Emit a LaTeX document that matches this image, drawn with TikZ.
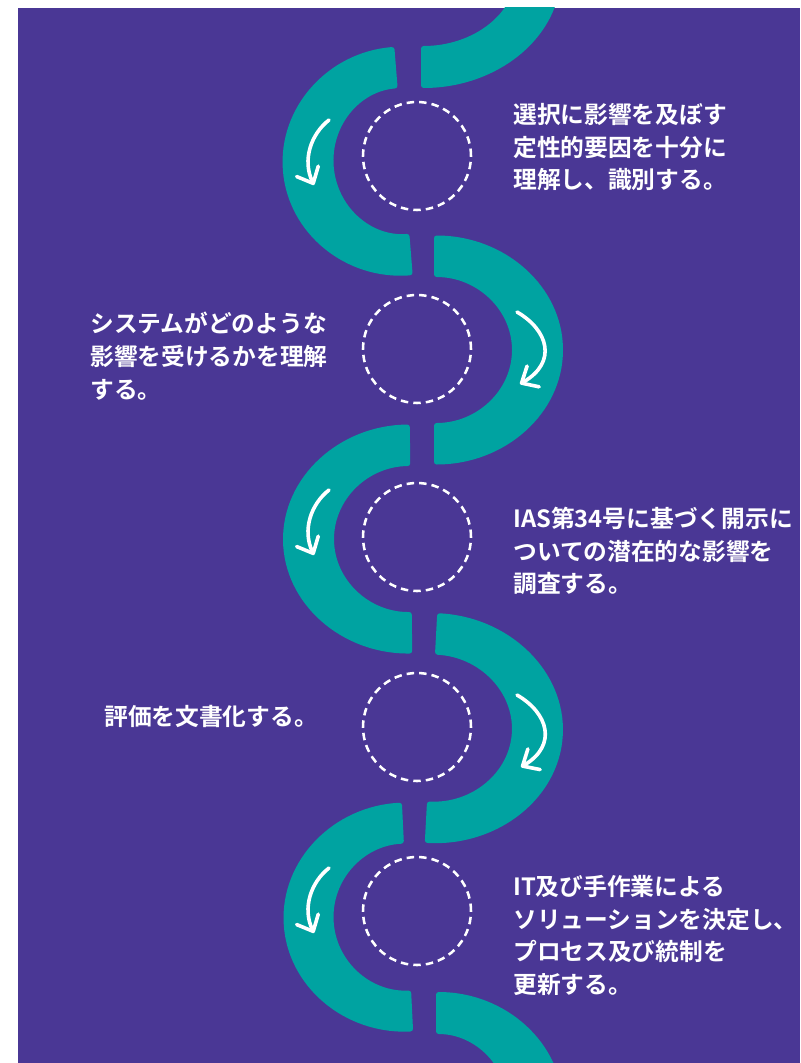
\documentclass[tikz,border=0pt]{standalone}
\usepackage{fontspec}
\newfontfamily\jp{Noto Sans CJK JP}[BoldFont={Noto Sans CJK JP Bold}]
\usetikzlibrary{arrows.meta}
\definecolor{bgpurple}{HTML}{4A3795}
\definecolor{bandteal}{HTML}{00A3A1}
\tikzset{
  band/.style={fill=bandteal, draw=none, rounded corners=2pt},
  ring/.style={draw=white, line width=1.9pt, dash pattern=on 5.6pt off 3.8pt, circle, minimum size=81pt, inner sep=0pt},
  flow/.style={draw=white, line width=2.7pt, line cap=round, line join=round,
    -{Straight Barb[length=10pt,width=18pt,round]}},
  lbl/.style={text=white, font=\jp\bfseries\fontsize{17.8}{24.5}\selectfont, align=left, anchor=north west, inner sep=0pt}
}
\begin{document}
\begin{tikzpicture}[x=0.75pt,y=-0.75pt]
\useasboundingbox (0,0) rectangle (800,1063);
\fill[white] (0,0) rectangle (800,1063);
\fill[bgpurple] (18,8) rectangle (800,1063);
\begin{scope}
\clip (18,8) rectangle (800,1063);
% top partial (right-bulging)
\begin{scope}[shift={(421,-27)}]
\fill[band] (0,-115) arc[start angle=270, end angle=450, x radius=140, y radius=115] -- (0,73) arc[start angle=90, end angle=-90, x radius=95, y radius=73] -- cycle;
\end{scope}
% C1 left
\begin{scope}[shift={(403.5,161)}, rotate=4.6]
\fill[band] (0,-114.5) arc[start angle=270, end angle=90, x radius=121, y radius=114.5] -- (0,73) arc[start angle=90, end angle=270, x radius=70, y radius=73] -- cycle;
\end{scope}
% C2 right
\begin{scope}[shift={(434,350)}]
\fill[band] (0,-114.5) arc[start angle=270, end angle=450, x radius=129, y radius=114.5] -- (0,73) arc[start angle=90, end angle=-90, x radius=78, y radius=73] -- cycle;
\end{scope}
% C3 left
\begin{scope}[shift={(411,539)}, rotate=0.6]
\fill[band] (0,-114.5) arc[start angle=270, end angle=90, x radius=128, y radius=114.5] -- (0,73) arc[start angle=90, end angle=270, x radius=77, y radius=73] -- cycle;
\end{scope}
% C4 right
\begin{scope}[shift={(431,728)}, rotate=-3.1]
\fill[band] (0,-115) arc[start angle=270, end angle=450, x radius=132, y radius=115] -- (0,73.5) arc[start angle=90, end angle=-90, x radius=81, y radius=73.5] -- cycle;
\end{scope}
% C5 left
\begin{scope}[shift={(407.5,917)}, rotate=2.8]
\fill[band] (0,-114.5) arc[start angle=270, end angle=90, x radius=124, y radius=114.5] -- (0,73.5) arc[start angle=90, end angle=270, x radius=74, y radius=73.5] -- cycle;
\end{scope}
% bottom partial (right-bulging)
\begin{scope}[shift={(436,1107)}]
\fill[band] (0,-115) arc[start angle=270, end angle=450, x radius=127, y radius=115] -- (0,73) arc[start angle=90, end angle=-90, x radius=72, y radius=73] -- cycle;
\end{scope}
\end{scope}
% dashed circles
\node[ring] (c1) at (417,156) {};
\node[ring] (c2) at (417,349) {};
\node[ring] (c3) at (417,537) {};
\node[ring] (c4) at (417,727) {};
\node[ring] (c5) at (417,911) {};
% arrows
\draw[flow] (329,120) .. controls (311,134) and (302,160) .. (314,185);
\draw[flow] (517,312) .. controls (548,330) and (558,362) .. (520,384);
\draw[flow] (329,490) .. controls (311,504) and (302,530) .. (314,555);
\draw[flow] (517,695) .. controls (548,713) and (558,745) .. (521,767);
\draw[flow] (329,868) .. controls (311,882) and (302,908) .. (314,933);
% labels
\node[lbl] (t1) at (513,103) {選択に影響を及ぼす\\定性的要因を十分に\\理解し、識別する。};
\node[lbl] (t2) at (90,312) {システムがどのような\\影響を受けるかを理解\\する。};
\node[lbl] (t3) at (513,507) {IAS第34号に基づく開示に\\ついての潜在的な影響を\\調査する。};
\node[lbl] (t4) at (104,705) {評価を文書化する。};
\node[lbl] (t5) at (513,875) {IT及び手作業による\\ソリューションを決定し、\\プロセス及び統制を\\更新する。};
\end{tikzpicture}
\end{document}
